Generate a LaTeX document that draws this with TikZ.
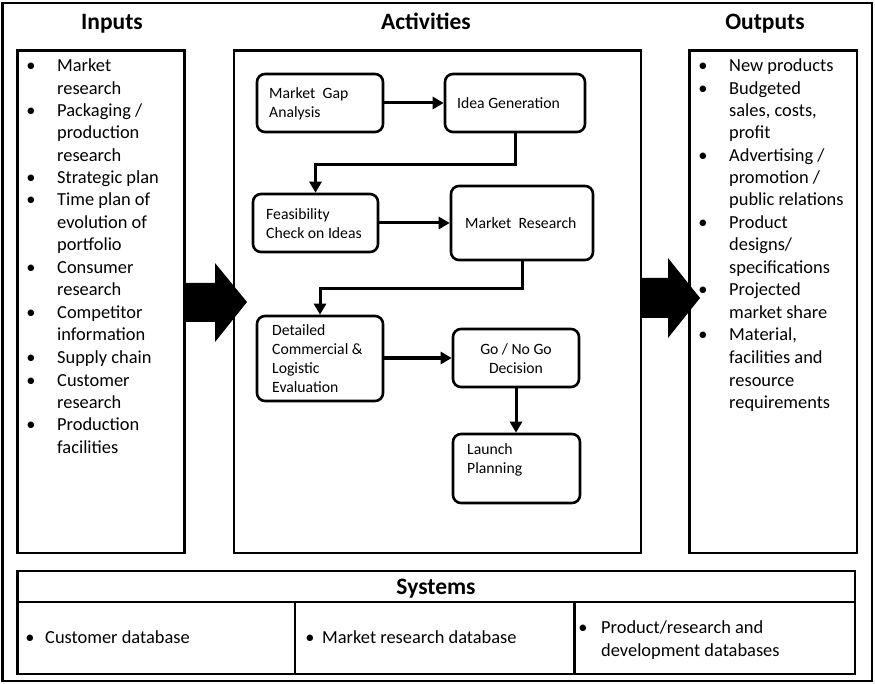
\documentclass[tikz,border=0pt]{standalone}
\usepackage{fontspec}
\setmainfont{Carlito}
\usetikzlibrary{arrows.meta}
\tikzset{
  frame/.style={draw=black, line width=2.6pt},
  thinline/.style={draw=black, line width=2.2pt},
  abox/.style={draw=black, line width=2.6pt, rounded corners=8pt, inner sep=0pt},
  atext/.style={anchor=west, align=left, inner sep=0pt, font=\fontsize{15.7}{19}\selectfont},
  head/.style={anchor=base, inner sep=0pt, font=\bfseries\fontsize{23.5}{28}\selectfont},
  itemtext/.style={anchor=base west, inner sep=0pt, font=\fontsize{18.4}{22.4}\selectfont},
  bul/.style={anchor=base, inner sep=0pt, font=\fontsize{18.4}{22.4}\selectfont},
  conn/.style={draw=black, line width=3pt, -{Triangle[length=11pt,width=12pt]}},
}
\begin{document}
\begin{tikzpicture}[x=1pt,y=-1pt]
\useasboundingbox (0,0) rectangle (875,684);
% outer frame
\draw[frame] (2.5,3) rectangle (872,681);
% headers
\node[head] (hin) at (112,30) {Inputs};
\node[head] (hact) at (426,30) {Activities};
\node[head] (hout) at (765,30) {Outputs};
% column boxes
\draw[frame] (17.5,50.5) rectangle (184.5,553);
\draw[frame] (234,50.5) rectangle (641,553);
\draw[frame] (689.5,50.5) rectangle (857,553);
% big arrows
\fill[black] (184.5,283) -- (215,283) -- (215,263) -- (247,302) -- (215,342) -- (215,322) -- (184.5,322) -- cycle;
\fill[black] (641,278) -- (668,278) -- (668,258) -- (700,298) -- (668,338) -- (668,318) -- (641,318) -- cycle;
% Inputs list
\foreach \y in {72,117,184,206,274,319,363,386,430}{\node[bul] at (31,\y) {•};}
\foreach \y/\t in {72/Market,95/research,117/{Packaging /},139/production,162/research,184/Strategic plan,206/Time plan of,229/evolution of,251/portfolio,274/Consumer,296/research,319/Competitor,341/information,363/Supply chain,386/Customer,408/research,430/Production,453/facilities}{
  \node[itemtext] at (57,\y) {\t};
}
% Outputs list
\foreach \y in {72,95,162,229,296,341}{\node[bul] at (703,\y) {•};}
\foreach \y/\t in {72/New products,95/Budgeted,117/{sales, costs,},139/profit,162/{Advertising /},184/{promotion /},206/public relations,229/Product,251/{designs/},274/specifications,296/Projected,319/market share,341/{Material,},363/facilities and,386/resource,408/requirements}{
  \node[itemtext] at (729,\y) {\t};
}
% Activity boxes
\node[abox, minimum width=126pt, minimum height=58pt] (mg) at (320,103) {};
\node[atext] (mgt) at (269,104) {Market\hspace{0.25em} Gap\\Analysis};
\node[abox, minimum width=140pt, minimum height=58pt] (ig) at (515,103) {};
\node[atext] (igt) at (457,103) {Idea Generation};
\node[abox, minimum width=125pt, minimum height=58pt] (fe) at (315.5,223) {};
\node[atext] (fet) at (266,223.5) {Feasibility\\Check on Ideas};
\node[abox, minimum width=142pt, minimum height=74pt] (mr) at (522,223) {};
\node[atext] (mrt) at (465,223) {Market\hspace{0.25em} Research};
\node[abox, minimum width=126pt, minimum height=85pt] (de) at (320,358.5) {};
\node[atext] (det) at (272,359) {Detailed\\Commercial \&\\Logistic\\Evaluation};
\node[abox, minimum width=126pt, minimum height=58pt] (go) at (516,358) {};
\node[anchor=center, align=center, inner sep=0pt, font=\fontsize{15.7}{19}\selectfont] (got) at (516,358.5) {Go / No Go\\Decision};
\node[abox, minimum width=127pt, minimum height=69pt] (la) at (516.5,468.5) {};
\node[atext] (lat) at (467,459.5) {Launch\\Planning};
% connectors
\draw[conn] (mg.east) -- (ig.west);
\draw[conn] (ig.south) -- ++(0,31) -| (fe.north);
\draw[conn] (fe.east) -- (fe.east -| mr.west);
\draw[conn] (mr.south) -- ++(0,27) -| (de.north);
\draw[conn] (de.east |- go.west) -- (go.west);
\draw[conn] (go.south) -- (go.south |- la.north);
% Systems
\draw[frame] (17.5,571) rectangle (855,674);
\draw[thinline] (17.5,602) -- (855,602);
\draw[thinline] (295,602) -- (295,674);
\draw[thinline] (574.5,602) -- (574.5,674);
\node[head] (hsys) at (436,594) {Systems};
\node[bul] at (30,643) {•};
\node[itemtext] (s1) at (45,643) {Customer database};
\node[bul] at (310,643) {•};
\node[itemtext] (s2) at (322,643) {Market research database};
\node[bul] at (583,633) {•};
\node[itemtext] (s3a) at (601,633) {Product/research and};
\node[itemtext] (s3b) at (601,656) {development databases};
\end{tikzpicture}
\end{document}
